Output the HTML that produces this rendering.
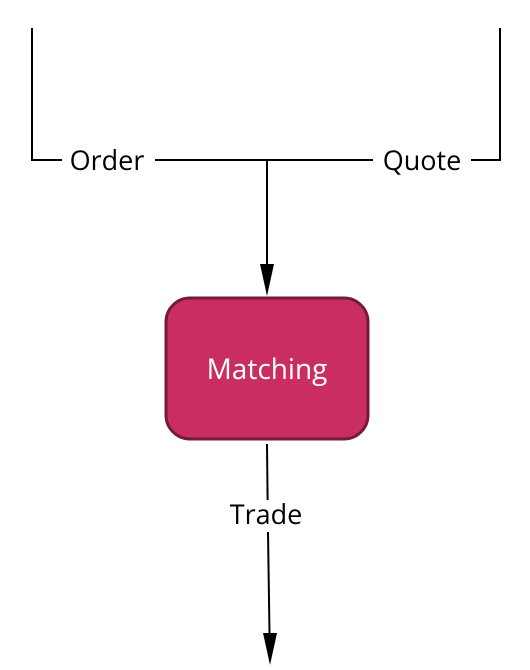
<!DOCTYPE html>
<html><head><style>body{margin:0;background:#fff}svg{display:block}</style></head><body>
<svg width="530" height="670" xmlns="http://www.w3.org/2000/svg" font-family="'Open Sans','DejaVu Sans','Liberation Sans',sans-serif">
<g stroke="#000" stroke-width="2" fill="none">
<polyline points="32,28 32,160 62,160"/>
<line x1="155" y1="160" x2="373" y2="160"/>
<polyline points="471,160 500,160 500,28"/>
<line x1="267" y1="160" x2="267" y2="270"/>
<line x1="267" y1="444" x2="267.6" y2="500"/>
<line x1="268" y1="532" x2="269.6" y2="640"/>
</g>
<polygon points="260,264 274,264 267,296" fill="#000"/>
<polygon points="263,633 277,633 270,665" fill="#000"/>
<rect x="166" y="298" width="202" height="141" rx="24" fill="#c92d62" stroke="#751a3e" stroke-width="3"/>
<text x="267" y="379" font-size="28" fill="#fff" text-anchor="middle">Matching</text>
<text x="107" y="170" font-size="27" text-anchor="middle">Order</text>
<text x="422" y="170" font-size="27" text-anchor="middle">Quote</text>
<text x="266" y="524" font-size="27" text-anchor="middle">Trade</text>
</svg>
</body></html>
